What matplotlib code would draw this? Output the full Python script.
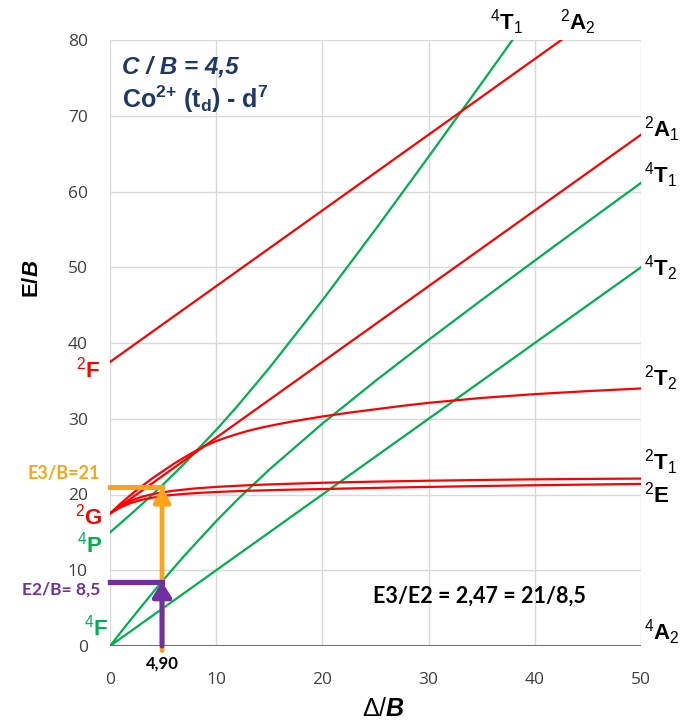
import matplotlib
matplotlib.use("Agg")
import matplotlib.pyplot as plt
from matplotlib.patches import FancyArrowPatch

plt.rcParams["mathtext.fontset"] = "custom"
plt.rcParams["mathtext.rm"] = "Liberation Sans"
plt.rcParams["mathtext.bf"] = "Liberation Sans:bold"
plt.rcParams["mathtext.it"] = "Liberation Sans:italic"
plt.rcParams["mathtext.bfit"] = "Liberation Sans:bold:italic"

# ---- energy levels (E/B versus Delta/B), d7 tetrahedral, C/B = 4.5 ----
# quartet terms
delta_4T1 = [0, 1, 2, 3, 4, 5, 7, 10, 12, 15, 20, 25, 30, 35, 40, 45, 50]
e_4T1_F = [0, 1.79, 3.55, 5.29, 7.0, 8.68, 11.92, 16.48, 19.32, 23.29, 29.36,
           35.0, 40.41, 45.68, 50.88, 56.03, 61.14]
e_4T1_P = [15, 16.21, 17.45, 18.71, 20.0, 21.32, 24.08, 28.52, 31.68, 36.71,
           45.64, 55.0, 64.59, 74.32, 84.12, 94.0, 103.9]
delta_lin = [0, 50]
e_4A2 = [0, 0]
e_4T2 = [0, 50]

# doublet terms
e_2A2 = [37.5, 87.5]
e_2A1 = [17.5, 67.5]
delta_2G = [0, 1, 2, 3, 4, 5, 6, 7, 8, 9, 10, 11, 12, 13, 14, 15, 17, 20,
            22.5, 25, 27.5, 30, 35, 40, 45, 50]
e_2T2 = [17.5, 18.8, 20.0, 21.1, 22.15, 23.1, 24.05, 24.9, 25.7, 26.45, 27.05,
         27.55, 28.0, 28.4, 28.75, 29.05, 29.6, 30.3, 30.8, 31.25, 31.7, 32.1,
         32.75, 33.25, 33.65, 34.0]
e_2T1 = [17.5, 18.5, 19.2, 19.7, 20.05, 20.3, 20.5, 20.65, 20.8, 20.9, 21.0,
         21.08, 21.15, 21.22, 21.28, 21.33, 21.42, 21.55, 21.63, 21.7, 21.76,
         21.82, 21.92, 22.0, 22.06, 22.1]
e_2E = [17.5, 18.3, 18.9, 19.3, 19.58, 19.8, 19.96, 20.08, 20.18, 20.26, 20.33,
        20.39, 20.44, 20.49, 20.53, 20.57, 20.64, 20.72, 20.8, 20.87, 20.94,
        21.0, 21.12, 21.22, 21.31, 21.4]

# measured transitions
delta_obs = 4.90
e2_obs = 8.5
e3_obs = 21

RED = "#FF0000"
GREEN = "#00B050"
ORANGE = "#FFA31A"
PURPLE = "#7030A0"
NAVY = "#1F3864"

W, H = 680, 722
fig = plt.figure(figsize=(W / 100, H / 100), dpi=100)
ax = fig.add_axes([110 / W, 1 - 646 / H, 531 / W, 606 / H])
ax.set_xlim(0, 50)
ax.set_ylim(0, 80)
ax.set_xticks(range(0, 51, 10))
ax.set_yticks(range(0, 81, 10))
ax.grid(True, color="#D9D9D9", lw=1.0)
ax.set_axisbelow(True)
for s in ax.spines.values():
    s.set_visible(False)
ax.tick_params(axis="both", length=0, labelsize=12.5, labelcolor="#404040")
ax.tick_params(axis="y", pad=16)
ax.tick_params(axis="x", pad=19)
for lab in ax.get_xticklabels() + ax.get_yticklabels():
    lab.set_fontfamily("Open Sans")

lw = 1.6
ax.plot(delta_lin, e_4A2, color=GREEN, lw=2.2, zorder=3)
ax.plot(delta_lin, e_4T2, color=GREEN, lw=lw, zorder=3)
ax.plot(delta_4T1, e_4T1_F, color=GREEN, lw=lw, zorder=3)
ax.plot(delta_4T1, e_4T1_P, color=GREEN, lw=lw, zorder=3)
ax.plot(delta_lin, e_2A2, color=RED, lw=lw, zorder=3)
ax.plot(delta_lin, e_2A1, color=RED, lw=lw, zorder=3)
ax.plot(delta_2G, e_2T2, color=RED, lw=lw, zorder=3)
ax.plot(delta_2G, e_2T1, color=RED, lw=lw, zorder=3)
ax.plot(delta_2G, e_2E, color=RED, lw=lw, zorder=3)

# transition markers
ax.plot([0, delta_obs], [e3_obs, e3_obs], color=ORANGE, lw=3.6,
        solid_capstyle="projecting", zorder=5, clip_on=False)
ax.add_patch(FancyArrowPatch((delta_obs, -0.6), (delta_obs, e3_obs),
                             arrowstyle="-|>,head_length=0.45,head_width=0.25",
                             mutation_scale=20, color=ORANGE, lw=3.4,
                             shrinkA=0, shrinkB=0, zorder=5, clip_on=False))
ax.plot([0, delta_obs], [e2_obs, e2_obs], color=PURPLE, lw=3.8,
        solid_capstyle="projecting", zorder=6, clip_on=False)
ax.add_patch(FancyArrowPatch((delta_obs, 0), (delta_obs, e2_obs),
                             arrowstyle="-|>,head_length=0.45,head_width=0.28",
                             mutation_scale=20, color=PURPLE, lw=3.6,
                             shrinkA=0, shrinkB=0, zorder=6, clip_on=False))

# term labels
lab_kw = dict(fontfamily="Liberation Sans", fontweight="bold", fontsize=16,
              va="baseline", clip_on=False, zorder=7)
right_labels = [("$^{2}$A$_{1}$", 67.2), ("$^{4}$T$_{1}$", 61.1),
                ("$^{4}$T$_{2}$", 48.9), ("$^{2}$T$_{2}$", 34.4),
                ("$^{2}$T$_{1}$", 23.2), ("$^{2}$E", 18.9), ("$^{4}$A$_{2}$", 0.8)]
for txt, yv in right_labels:
    ax.text(50.3, yv, txt, ha="left", color="black", **lab_kw)
ax.text(35.8, 81.3, "$^{4}$T$_{1}$", ha="left", color="black", **lab_kw)
ax.text(42.4, 81.3, "$^{2}$A$_{2}$", ha="left", color="black", **lab_kw)

left_labels = [("$^{2}$F", 35.4, -0.95, RED), ("$^{2}$G", 16.0, -0.75, RED),
               ("$^{4}$P", 12.3, -0.75, GREEN), ("$^{4}$F", 1.4, -0.2, GREEN)]
for txt, yv, xv, col in left_labels:
    ax.text(xv, yv, txt, ha="right", color=col, **lab_kw)

ann_kw = dict(fontfamily="Lato", fontweight="bold", clip_on=False, zorder=7)
ax.text(-0.94, 22.8, "E3/B=21", ha="right", va="center", color=ORANGE,
        fontsize=13, **ann_kw)
ax.text(-0.94, 7.5, "E2/B= 8,5", ha="right", va="center", color=PURPLE,
        fontsize=12.5, **ann_kw)
ax.text(delta_obs, -2.3, "4,90", ha="center", va="center", color="black",
        fontsize=12, **ann_kw)
ax.text(34.8, 6.6, "E3/E2 = 2,47 = 21/8,5", ha="center", va="center",
        color="black", fontsize=15.5, **ann_kw)

ax.text(1.1, 76.5, "C / B = 4,5", ha="left", va="center", color=NAVY,
        fontfamily="Liberation Sans", fontweight="bold", fontstyle="italic",
        fontsize=17.5)
ax.text(1.1, 71.0, "Co$^{\\mathbf{2{+}}}$ (t$_{\\mathbf{d}}$) - d$^{\\mathbf{7}}$",
        ha="left", va="baseline", color=NAVY, fontfamily="Liberation Sans",
        fontweight="bold", fontsize=18)

# axis titles
fig.text(32 / W, 1 - 279 / H, "E/$\\mathbfit{B}$", rotation=90, ha="center",
         va="center", fontfamily="Liberation Sans", fontweight="bold",
         fontsize=16, color="black")
fig.text(383 / W, 1 - 709 / H, "$\\Delta$/$\\mathbfit{B}$", ha="center",
         va="center", fontfamily="Liberation Sans", fontsize=18, color="black")

fig.savefig("out.png", dpi=100)
